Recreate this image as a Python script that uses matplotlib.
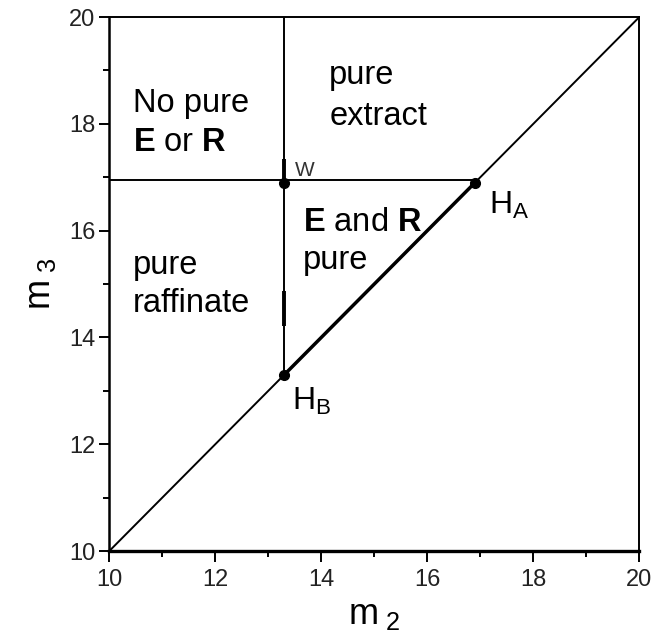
import matplotlib
matplotlib.use('Agg')
import matplotlib.pyplot as plt
import matplotlib.ticker as ticker

plt.rcParams['font.family'] = ['Liberation Sans', 'DejaVu Sans']
plt.rcParams['mathtext.fontset'] = 'custom'
plt.rcParams['mathtext.rm'] = 'Liberation Sans'
plt.rcParams['mathtext.it'] = 'Liberation Sans'
plt.rcParams['mathtext.bf'] = 'Liberation Sans:bold'

# operating lines (m2, m3)
diag_m2 = [10, 20]
diag_m3 = [10, 20]
w_m2 = 13.3
horiz_m3 = 16.95
top_m3 = 20

# thick bits on the vertical line
thick_v = [(16.97, 17.35), (14.22, 14.87)]

# points W, H_A, H_B
pt_m2 = [13.3, 16.9, 13.3]
pt_m3 = [16.9, 16.9, 13.3]

ticks = [10, 12, 14, 16, 18, 20]

fig = plt.figure(figsize=(6.56, 6.33), dpi=100)
ax = fig.add_axes([0.1666, 0.1295, 0.808, 0.8436])

# diagonal m2 = m3
ax.plot(diag_m2, diag_m3, color='black', lw=1.4)
ax.plot([pt_m2[2], pt_m2[1]], [pt_m3[2], pt_m3[1]], color='black', lw=2.5)

# horizontal line at m3 of H_A
ax.plot([10, pt_m2[1]], [horiz_m3, horiz_m3], color='black', lw=1.4)

# vertical line through W and H_B
ax.plot([w_m2, w_m2], [top_m3, pt_m3[2]], color='black', lw=1.4)
for lo, hi in thick_v:
    ax.plot([w_m2, w_m2], [lo, hi], color='black', lw=2.8, solid_capstyle='butt')

ax.plot(pt_m2, pt_m3, 'o', color='black', ms=7)

# region labels
fs = 23.5
ax.text(10.45, 18.22, 'No pure', fontsize=fs, va='baseline')
ax.text(10.45, 17.49, r'$\mathbf{E}$ or $\mathbf{R}$', fontsize=fs, va='baseline')
ax.text(14.15, 18.75, 'pure', fontsize=fs, va='baseline')
ax.text(14.15, 17.97, 'extract', fontsize=fs, va='baseline')
ax.text(10.45, 15.19, 'pure', fontsize=fs, va='baseline')
ax.text(10.45, 14.47, 'raffinate', fontsize=fs, va='baseline')
ax.text(13.66, 16.0, r'$\mathbf{E}$ and $\mathbf{R}$', fontsize=fs, va='baseline')
ax.text(13.66, 15.28, 'pure', fontsize=fs, va='baseline')

# point labels
ax.text(13.5, 17.03, 'W', fontsize=15, va='baseline', color='#333333')
ax.text(17.17, 16.32, r'H$_{\rm A}$', fontsize=23, va='baseline')
ax.text(13.44, 12.64, r'H$_{\rm B}$', fontsize=23, va='baseline')

ax.set_xlim(10, 20)
ax.set_ylim(10, 20)
ax.set_xticks(ticks)
ax.set_yticks(ticks)
ax.xaxis.set_minor_locator(ticker.MultipleLocator(1))
ax.yaxis.set_minor_locator(ticker.MultipleLocator(1))
ax.tick_params(which='major', direction='out', labelsize=17, width=1.4,
               labelcolor='#222222')
ax.tick_params(which='minor', direction='out', width=1.4)
ax.tick_params(axis='x', which='major', length=8, pad=5)
ax.tick_params(axis='x', which='minor', length=4)
ax.tick_params(axis='y', which='major', length=7, pad=3)
ax.tick_params(axis='y', which='minor', length=4)

ax.spines['bottom'].set_linewidth(2.4)
ax.spines['left'].set_linewidth(1.8)
ax.spines['top'].set_linewidth(1.4)
ax.spines['right'].set_linewidth(1.4)

ax.set_xlabel(r'm$_{\ 2}$', fontsize=26, labelpad=4)
ax.set_ylabel(r'm$_{\ 3}$', fontsize=26, labelpad=8)

plt.savefig('out.png', dpi=100)
